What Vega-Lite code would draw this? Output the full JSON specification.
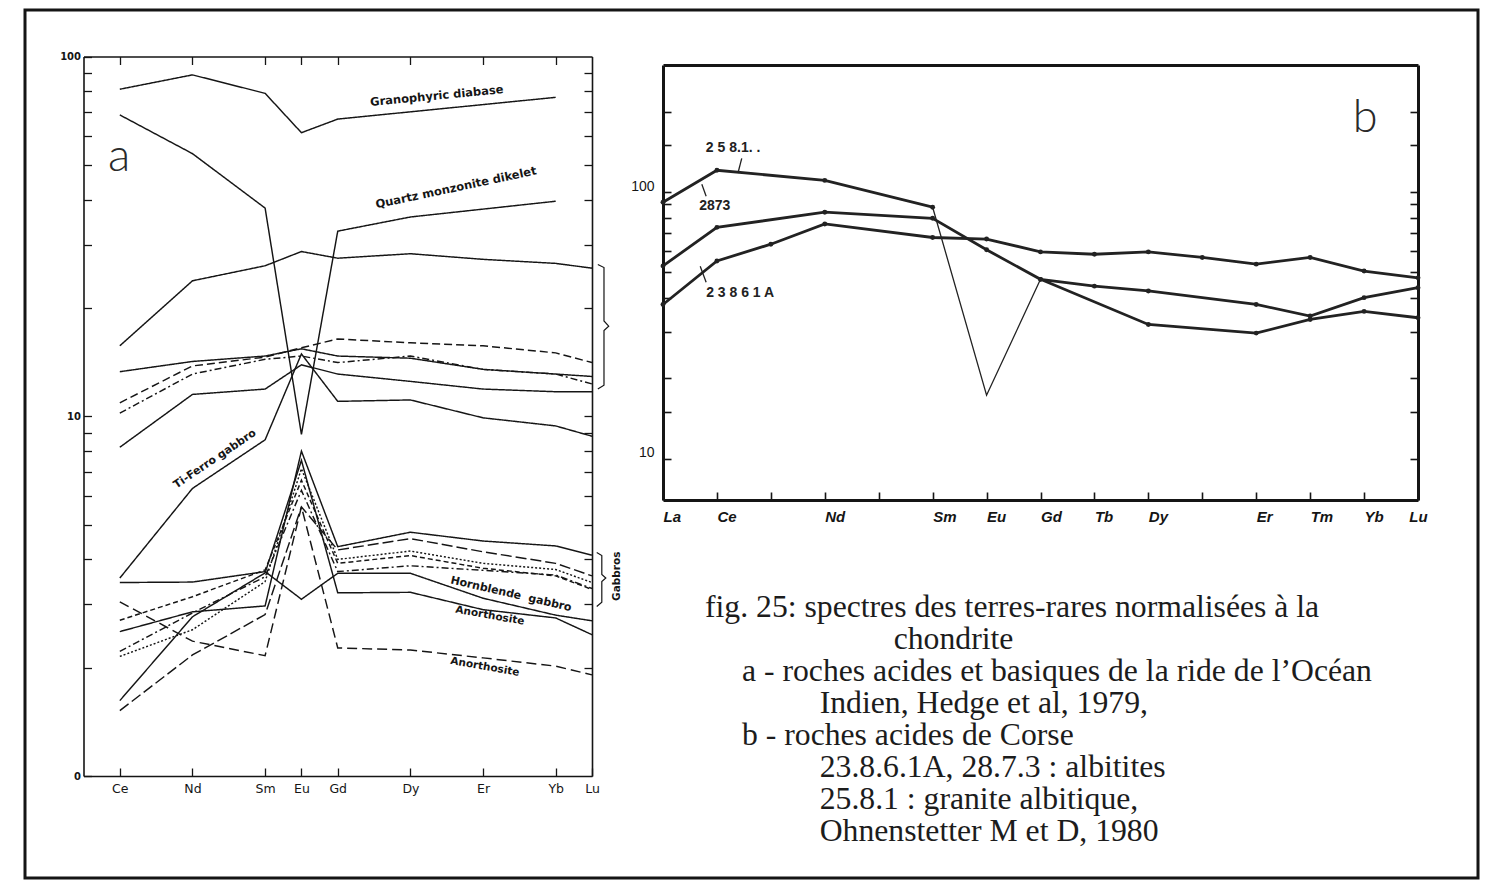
{
"$schema": "https://vega.github.io/schema/vega-lite/v6.json",
"width": 1453, "height": 868,
"autosize": {"type": "none"},
"padding": {"left": 25, "top": 10, "right": 16, "bottom": 3},
"background": "#ffffff",
"config": {
  "view": {"stroke": "#151515", "strokeWidth": 3},
  "axis": {"grid": false, "domainColor": "#151515", "tickColor": "#151515", "labelColor": "#151515", "labelFlush": false, "labelOverlap": false, "labelBound": false, "title": null},
  "text": {"color": "#151515"},
  "line": {"color": "#151515"},
  "rule": {"color": "#151515"}
},
"datasets": {
  "ree_a": [
    {"sample":"Granophyric diabase","element":"Ce","z":58,"value":81.1},
    {"sample":"Granophyric diabase","element":"Nd","z":60,"value":88.9},
    {"sample":"Granophyric diabase","element":"Sm","z":62,"value":79.0},
    {"sample":"Granophyric diabase","element":"Eu","z":63,"value":61.4},
    {"sample":"Granophyric diabase","element":"Gd","z":64,"value":67.0},
    {"sample":"Granophyric diabase","element":"Yb","z":70,"value":77.0},
    {"sample":"Quartz monzonite dikelet","element":"Ce","z":58,"value":68.8},
    {"sample":"Quartz monzonite dikelet","element":"Nd","z":60,"value":53.7},
    {"sample":"Quartz monzonite dikelet","element":"Sm","z":62,"value":37.9},
    {"sample":"Quartz monzonite dikelet","element":"Eu","z":63,"value":8.9},
    {"sample":"Quartz monzonite dikelet","element":"Gd","z":64,"value":32.7},
    {"sample":"Quartz monzonite dikelet","element":"Dy","z":66,"value":35.8},
    {"sample":"Quartz monzonite dikelet","element":"Yb","z":70,"value":39.6},
    {"sample":"Gabbro 1","element":"Ce","z":58,"value":15.7},
    {"sample":"Gabbro 1","element":"Nd","z":60,"value":23.8},
    {"sample":"Gabbro 1","element":"Sm","z":62,"value":26.2},
    {"sample":"Gabbro 1","element":"Eu","z":63,"value":28.7},
    {"sample":"Gabbro 1","element":"Gd","z":64,"value":27.5},
    {"sample":"Gabbro 1","element":"Dy","z":66,"value":28.3},
    {"sample":"Gabbro 1","element":"Er","z":68,"value":27.3},
    {"sample":"Gabbro 1","element":"Yb","z":70,"value":26.6},
    {"sample":"Gabbro 1","element":"Lu","z":71,"value":25.8},
    {"sample":"Gabbro 2","element":"Ce","z":58,"value":10.9},
    {"sample":"Gabbro 2","element":"Nd","z":60,"value":13.8},
    {"sample":"Gabbro 2","element":"Sm","z":62,"value":14.6},
    {"sample":"Gabbro 2","element":"Eu","z":63,"value":15.5},
    {"sample":"Gabbro 2","element":"Gd","z":64,"value":16.4},
    {"sample":"Gabbro 2","element":"Dy","z":66,"value":16.0},
    {"sample":"Gabbro 2","element":"Er","z":68,"value":15.7},
    {"sample":"Gabbro 2","element":"Yb","z":70,"value":15.0},
    {"sample":"Gabbro 2","element":"Lu","z":71,"value":14.1},
    {"sample":"Gabbro 3","element":"Ce","z":58,"value":10.2},
    {"sample":"Gabbro 3","element":"Nd","z":60,"value":13.1},
    {"sample":"Gabbro 3","element":"Sm","z":62,"value":14.4},
    {"sample":"Gabbro 3","element":"Eu","z":63,"value":14.7},
    {"sample":"Gabbro 3","element":"Gd","z":64,"value":14.1},
    {"sample":"Gabbro 3","element":"Dy","z":66,"value":14.7},
    {"sample":"Gabbro 3","element":"Er","z":68,"value":13.5},
    {"sample":"Gabbro 3","element":"Yb","z":70,"value":13.1},
    {"sample":"Gabbro 3","element":"Lu","z":71,"value":12.3},
    {"sample":"Gabbro 4","element":"Ce","z":58,"value":13.3},
    {"sample":"Gabbro 4","element":"Nd","z":60,"value":14.2},
    {"sample":"Gabbro 4","element":"Sm","z":62,"value":14.7},
    {"sample":"Gabbro 4","element":"Eu","z":63,"value":15.4},
    {"sample":"Gabbro 4","element":"Gd","z":64,"value":14.7},
    {"sample":"Gabbro 4","element":"Dy","z":66,"value":14.5},
    {"sample":"Gabbro 4","element":"Er","z":68,"value":13.5},
    {"sample":"Gabbro 4","element":"Yb","z":70,"value":13.1},
    {"sample":"Gabbro 4","element":"Lu","z":71,"value":12.9},
    {"sample":"Gabbro 5","element":"Ce","z":58,"value":8.2},
    {"sample":"Gabbro 5","element":"Nd","z":60,"value":11.5},
    {"sample":"Gabbro 5","element":"Sm","z":62,"value":11.9},
    {"sample":"Gabbro 5","element":"Eu","z":63,"value":13.9},
    {"sample":"Gabbro 5","element":"Gd","z":64,"value":13.1},
    {"sample":"Gabbro 5","element":"Dy","z":66,"value":12.5},
    {"sample":"Gabbro 5","element":"Er","z":68,"value":11.9},
    {"sample":"Gabbro 5","element":"Yb","z":70,"value":11.7},
    {"sample":"Gabbro 5","element":"Lu","z":71,"value":11.7},
    {"sample":"Ti-Ferro gabbro","element":"Ce","z":58,"value":3.55},
    {"sample":"Ti-Ferro gabbro","element":"Nd","z":60,"value":6.3},
    {"sample":"Ti-Ferro gabbro","element":"Sm","z":62,"value":8.6},
    {"sample":"Ti-Ferro gabbro","element":"Eu","z":63,"value":14.9},
    {"sample":"Ti-Ferro gabbro","element":"Gd","z":64,"value":11.0},
    {"sample":"Ti-Ferro gabbro","element":"Dy","z":66,"value":11.1},
    {"sample":"Ti-Ferro gabbro","element":"Er","z":68,"value":9.9},
    {"sample":"Ti-Ferro gabbro","element":"Yb","z":70,"value":9.4},
    {"sample":"Ti-Ferro gabbro","element":"Lu","z":71,"value":8.8},
    {"sample":"Gabbro 6","element":"Ce","z":58,"value":2.52},
    {"sample":"Gabbro 6","element":"Nd","z":60,"value":2.86},
    {"sample":"Gabbro 6","element":"Sm","z":62,"value":2.97},
    {"sample":"Gabbro 6","element":"Eu","z":63,"value":8.0},
    {"sample":"Gabbro 6","element":"Gd","z":64,"value":4.34},
    {"sample":"Gabbro 6","element":"Dy","z":66,"value":4.76},
    {"sample":"Gabbro 6","element":"Er","z":68,"value":4.5},
    {"sample":"Gabbro 6","element":"Yb","z":70,"value":4.36},
    {"sample":"Gabbro 6","element":"Lu","z":71,"value":4.11},
    {"sample":"Gabbro 7","element":"Ce","z":58,"value":1.52},
    {"sample":"Gabbro 7","element":"Nd","z":60,"value":2.17},
    {"sample":"Gabbro 7","element":"Sm","z":62,"value":2.81},
    {"sample":"Gabbro 7","element":"Eu","z":63,"value":5.6},
    {"sample":"Gabbro 7","element":"Gd","z":64,"value":4.25},
    {"sample":"Gabbro 7","element":"Dy","z":66,"value":4.57},
    {"sample":"Gabbro 7","element":"Er","z":68,"value":4.2},
    {"sample":"Gabbro 7","element":"Yb","z":70,"value":3.9},
    {"sample":"Gabbro 7","element":"Lu","z":71,"value":3.6},
    {"sample":"Gabbro 8","element":"Ce","z":58,"value":2.15},
    {"sample":"Gabbro 8","element":"Nd","z":60,"value":2.55},
    {"sample":"Gabbro 8","element":"Sm","z":62,"value":3.47},
    {"sample":"Gabbro 8","element":"Eu","z":63,"value":7.15},
    {"sample":"Gabbro 8","element":"Gd","z":64,"value":4.0},
    {"sample":"Gabbro 8","element":"Dy","z":66,"value":4.22},
    {"sample":"Gabbro 8","element":"Er","z":68,"value":3.9},
    {"sample":"Gabbro 8","element":"Yb","z":70,"value":3.75},
    {"sample":"Gabbro 8","element":"Lu","z":71,"value":3.45},
    {"sample":"Gabbro 9","element":"Ce","z":58,"value":2.71},
    {"sample":"Gabbro 9","element":"Nd","z":60,"value":3.15},
    {"sample":"Gabbro 9","element":"Sm","z":62,"value":3.74},
    {"sample":"Gabbro 9","element":"Eu","z":63,"value":6.64},
    {"sample":"Gabbro 9","element":"Gd","z":64,"value":3.9},
    {"sample":"Gabbro 9","element":"Dy","z":66,"value":4.1},
    {"sample":"Gabbro 9","element":"Er","z":68,"value":3.78},
    {"sample":"Gabbro 9","element":"Yb","z":70,"value":3.6},
    {"sample":"Gabbro 9","element":"Lu","z":71,"value":3.3},
    {"sample":"Gabbro 10","element":"Ce","z":58,"value":2.22},
    {"sample":"Gabbro 10","element":"Nd","z":60,"value":2.84},
    {"sample":"Gabbro 10","element":"Sm","z":62,"value":3.58},
    {"sample":"Gabbro 10","element":"Eu","z":63,"value":6.22},
    {"sample":"Gabbro 10","element":"Gd","z":64,"value":3.7},
    {"sample":"Gabbro 10","element":"Dy","z":66,"value":3.84},
    {"sample":"Gabbro 10","element":"Er","z":68,"value":3.73},
    {"sample":"Gabbro 10","element":"Yb","z":70,"value":3.62},
    {"sample":"Gabbro 10","element":"Lu","z":71,"value":3.32},
    {"sample":"Hornblende gabbro","element":"Ce","z":58,"value":3.45},
    {"sample":"Hornblende gabbro","element":"Nd","z":60,"value":3.46},
    {"sample":"Hornblende gabbro","element":"Sm","z":62,"value":3.7},
    {"sample":"Hornblende gabbro","element":"Eu","z":63,"value":3.1},
    {"sample":"Hornblende gabbro","element":"Gd","z":64,"value":3.66},
    {"sample":"Hornblende gabbro","element":"Dy","z":66,"value":3.66},
    {"sample":"Hornblende gabbro","element":"Er","z":68,"value":3.12},
    {"sample":"Hornblende gabbro","element":"Yb","z":70,"value":2.8},
    {"sample":"Hornblende gabbro","element":"Lu","z":71,"value":2.7},
    {"sample":"Anorthosite 1","element":"Ce","z":58,"value":1.62},
    {"sample":"Anorthosite 1","element":"Nd","z":60,"value":2.77},
    {"sample":"Anorthosite 1","element":"Sm","z":62,"value":3.67},
    {"sample":"Anorthosite 1","element":"Eu","z":63,"value":7.54},
    {"sample":"Anorthosite 1","element":"Gd","z":64,"value":3.23},
    {"sample":"Anorthosite 1","element":"Dy","z":66,"value":3.24},
    {"sample":"Anorthosite 1","element":"Er","z":68,"value":2.9},
    {"sample":"Anorthosite 1","element":"Yb","z":70,"value":2.75},
    {"sample":"Anorthosite 1","element":"Lu","z":71,"value":2.47},
    {"sample":"Anorthosite 2","element":"Ce","z":58,"value":3.05},
    {"sample":"Anorthosite 2","element":"Nd","z":60,"value":2.37},
    {"sample":"Anorthosite 2","element":"Sm","z":62,"value":2.16},
    {"sample":"Anorthosite 2","element":"Eu","z":63,"value":5.6},
    {"sample":"Anorthosite 2","element":"Gd","z":64,"value":2.27},
    {"sample":"Anorthosite 2","element":"Dy","z":66,"value":2.24},
    {"sample":"Anorthosite 2","element":"Er","z":68,"value":2.13},
    {"sample":"Anorthosite 2","element":"Yb","z":70,"value":2.02},
    {"sample":"Anorthosite 2","element":"Lu","z":71,"value":1.91}
  ],
  "ree_b": [
    {"sample":"25.8.1","element":"La","z":57,"value":91.7},
    {"sample":"25.8.1","element":"Ce","z":58,"value":120.8},
    {"sample":"25.8.1","element":"Nd","z":60,"value":110.7},
    {"sample":"25.8.1","element":"Sm","z":62,"value":87.8},
    {"sample":"25.8.1","element":"Eu","z":63,"value":17.3},
    {"sample":"25.8.1","element":"Gd","z":64,"value":47.1},
    {"sample":"25.8.1","element":"Dy","z":66,"value":31.9},
    {"sample":"25.8.1","element":"Er","z":68,"value":29.6},
    {"sample":"25.8.1","element":"Tm","z":69,"value":33.3},
    {"sample":"25.8.1","element":"Yb","z":70,"value":35.7},
    {"sample":"25.8.1","element":"Lu","z":71,"value":33.8},
    {"sample":"28.7.3","element":"La","z":57,"value":52.9},
    {"sample":"28.7.3","element":"Ce","z":58,"value":73.8},
    {"sample":"28.7.3","element":"Nd","z":60,"value":84.1},
    {"sample":"28.7.3","element":"Sm","z":62,"value":79.8},
    {"sample":"28.7.3","element":"Eu","z":63,"value":60.8},
    {"sample":"28.7.3","element":"Gd","z":64,"value":47.1},
    {"sample":"28.7.3","element":"Tb","z":65,"value":44.4},
    {"sample":"28.7.3","element":"Dy","z":66,"value":42.6},
    {"sample":"28.7.3","element":"Er","z":68,"value":37.9},
    {"sample":"28.7.3","element":"Tm","z":69,"value":34.3},
    {"sample":"28.7.3","element":"Yb","z":70,"value":40.2},
    {"sample":"28.7.3","element":"Lu","z":71,"value":43.8},
    {"sample":"23.8.6.1A","element":"La","z":57,"value":37.9},
    {"sample":"23.8.6.1A","element":"Ce","z":58,"value":55.2},
    {"sample":"23.8.6.1A","element":"Pr","z":59,"value":63.8},
    {"sample":"23.8.6.1A","element":"Nd","z":60,"value":76.0},
    {"sample":"23.8.6.1A","element":"Sm","z":62,"value":67.6},
    {"sample":"23.8.6.1A","element":"Eu","z":63,"value":66.7},
    {"sample":"23.8.6.1A","element":"Gd","z":64,"value":59.7},
    {"sample":"23.8.6.1A","element":"Tb","z":65,"value":58.5},
    {"sample":"23.8.6.1A","element":"Dy","z":66,"value":59.7},
    {"sample":"23.8.6.1A","element":"Ho","z":67,"value":56.9},
    {"sample":"23.8.6.1A","element":"Er","z":68,"value":53.7},
    {"sample":"23.8.6.1A","element":"Tm","z":69,"value":56.9},
    {"sample":"23.8.6.1A","element":"Yb","z":70,"value":50.6},
    {"sample":"23.8.6.1A","element":"Lu","z":71,"value":47.7}
  ],
  "notes_a": [
    {"text":"a","z":57.98,"value":52.7},
    {"text":"Granophyric diabase","z":66.73,"value":77.4},
    {"text":"Quartz monzonite dikelet","z":67.26,"value":43.0},
    {"text":"Ti-Ferro gabbro","z":60.62,"value":7.6},
    {"text":"Hornblende\u00a0\u00a0gabbro","z":68.77,"value":3.2},
    {"text":"Anorthosite","z":68.19,"value":2.79},
    {"text":"Anorthosite","z":68.05,"value":2.01},
    {"text":"Gabbros","z":71.69,"value":3.59}
  ],
  "brackets": [
    {"bracket":"upper","order":1,"z":71.16,"value":26.4},
    {"bracket":"upper","order":2,"z":71.33,"value":25.9},
    {"bracket":"upper","order":3,"z":71.33,"value":18.4},
    {"bracket":"upper","order":4,"z":71.46,"value":17.8},
    {"bracket":"upper","order":5,"z":71.33,"value":17.3},
    {"bracket":"upper","order":6,"z":71.33,"value":12.2},
    {"bracket":"upper","order":7,"z":71.16,"value":11.9},
    {"bracket":"gabbros","order":1,"z":71.13,"value":4.18},
    {"bracket":"gabbros","order":2,"z":71.27,"value":4.1},
    {"bracket":"gabbros","order":3,"z":71.27,"value":3.63},
    {"bracket":"gabbros","order":4,"z":71.38,"value":3.55},
    {"bracket":"gabbros","order":5,"z":71.27,"value":3.47},
    {"bracket":"gabbros","order":6,"z":71.27,"value":3.04},
    {"bracket":"gabbros","order":7,"z":71.13,"value":2.96}
  ],
  "notes_b": [
    {"text":"b","z":70.02,"value":190},
    {"text":"2 5 8.1. .","z":58.3,"value":146},
    {"text":"2873","z":57.96,"value":88.5},
    {"text":"2 3 8 6 1 A","z":58.43,"value":41.7}
  ],
  "arrows_b": [
    {"label":"25.8.1","z":58.46,"value":134,"z2":58.39,"value2":118},
    {"label":"28.7.3","z":57.8,"value":96.5,"z2":57.72,"value2":107},
    {"label":"23.8.6.1A","z":57.8,"value":45.9,"z2":57.69,"value2":52.7}
  ],
  "caption": [
    {"line":1,"indent":0,"text":"fig. 25: spectres des terres-rares normalisées à la"},
    {"line":2,"indent":5.1,"text":"chondrite"},
    {"line":3,"indent":1,"text":"a - roches acides et basiques de la ride de l’Océan"},
    {"line":4,"indent":3.1,"text":"Indien, Hedge et al, 1979,"},
    {"line":5,"indent":1,"text":"b - roches acides de Corse"},
    {"line":6,"indent":3.1,"text":"23.8.6.1A, 28.7.3 : albitites"},
    {"line":7,"indent":3.1,"text":"25.8.1 : granite albitique,"},
    {"line":8,"indent":3.1,"text":"Ohnenstetter M et D, 1980"}
  ]
},
"layer": [
  {
    "layer": [
      {
        "data": {"name": "ree_a"},
        "mark": {"type": "line", "strokeWidth": 1.45, "color": "#151515"},
        "encoding": {
          "x": {"field": "z", "type": "quantitative", "scale": {"type": "linear", "domain": [57, 71], "range": [58.5, 567], "nice": false, "zero": false},
                "axis": {"orient": "bottom", "offset": -102, "values": [58, 60, 62, 63, 64, 66, 68, 70, 71], "labelExpr": "['La','Ce','Pr','Nd','Pm','Sm','Eu','Gd','Tb','Dy','Ho','Er','Tm','Yb','Lu'][datum.value - 57]", "tickSize": -8, "tickWidth": 1.3, "domainWidth": 1.6, "labelPadding": 14, "labelFont": "DejaVu Sans", "labelFontSize": 12.5}},
          "y": {"field": "value", "type": "quantitative", "scale": {"type": "log", "domain": [1, 100], "range": [766, 46.5], "nice": false},
                "axis": {"orient": "left", "offset": -58.5, "values": [1, 2, 3, 4, 5, 6, 7, 8, 9, 10, 20, 30, 40, 50, 60, 70, 80, 90, 100], "labelExpr": "datum.value == 1 ? '0' : ((datum.value == 10 || datum.value == 100) ? format(datum.value, 'd') : '')", "tickSize": -8, "tickWidth": 1.3, "domainWidth": 1.6, "labelPadding": 11, "labelFont": "DejaVu Sans", "labelFontSize": 10, "labelFontWeight": "bold"}},
          "strokeDash": {"field": "sample", "type": "nominal", "legend": null,
            "scale": {"domain": ["Granophyric diabase", "Quartz monzonite dikelet", "Gabbro 1", "Gabbro 2", "Gabbro 3", "Gabbro 4", "Gabbro 5", "Ti-Ferro gabbro", "Gabbro 6", "Gabbro 7", "Gabbro 8", "Gabbro 9", "Gabbro 10", "Hornblende gabbro", "Anorthosite 1", "Anorthosite 2"],
                      "range": [[1, 0], [1, 0], [1, 0], [8, 4], [7, 3, 2, 3], [1, 0], [1, 0], [1, 0], [1, 0], [11, 4], [2, 2], [5, 3], [7, 3, 2, 3], [1, 0], [1, 0], [10, 5]]}}
        }
      },
      {
        "data": {"name": "notes_a"},
        "transform": [{"filter": "datum.text === 'a'"}],
        "mark": {"type": "text", "font": "Lato", "fontWeight": 300, "fontSize": 46, "color": "#2a2a2a"},
        "encoding": {
          "x": {"field": "z", "type": "quantitative", "scale": {"type": "linear", "domain": [57, 71], "range": [58.5, 567], "nice": false, "zero": false},
                "axis": {"orient": "top", "offset": -46.5, "values": [58, 60, 62, 63, 64, 66, 68, 70], "labels": false, "tickSize": -8, "tickWidth": 1.3, "domainWidth": 1.6}},
          "y": {"field": "value", "type": "quantitative", "scale": {"type": "log", "domain": [1, 100], "range": [766, 46.5], "nice": false},
                "axis": {"orient": "right", "offset": -886, "values": [2, 3, 4, 5, 6, 7, 8, 9, 10, 20, 30, 40, 50, 60, 70, 80, 90], "labels": false, "tickSize": -8, "tickWidth": 1.3, "domainWidth": 1.6}},
          "text": {"field": "text"}
        }
      },
      {
        "data": {"name": "notes_a"},
        "transform": [{"filter": "datum.text === 'Granophyric diabase'"}],
        "mark": {"type": "text", "angle": 354.5, "font": "DejaVu Sans", "fontWeight": "bold", "fontSize": 11.5},
        "encoding": {
          "x": {"field": "z", "type": "quantitative", "scale": {"type": "linear", "domain": [57, 71], "range": [58.5, 567], "nice": false, "zero": false}, "axis": null},
          "y": {"field": "value", "type": "quantitative", "scale": {"type": "log", "domain": [1, 100], "range": [766, 46.5], "nice": false}, "axis": null},
          "text": {"field": "text"}
        }
      },
      {
        "data": {"name": "notes_a"},
        "transform": [{"filter": "datum.text === 'Quartz monzonite dikelet'"}],
        "mark": {"type": "text", "angle": 348, "font": "DejaVu Sans", "fontWeight": "bold", "fontSize": 11.5},
        "encoding": {
          "x": {"field": "z", "type": "quantitative", "scale": {"type": "linear", "domain": [57, 71], "range": [58.5, 567], "nice": false, "zero": false}, "axis": null},
          "y": {"field": "value", "type": "quantitative", "scale": {"type": "log", "domain": [1, 100], "range": [766, 46.5], "nice": false}, "axis": null},
          "text": {"field": "text"}
        }
      },
      {
        "data": {"name": "notes_a"},
        "transform": [{"filter": "datum.text === 'Ti-Ferro gabbro'"}],
        "mark": {"type": "text", "angle": 326, "font": "DejaVu Sans", "fontWeight": "bold", "fontSize": 11},
        "encoding": {
          "x": {"field": "z", "type": "quantitative", "scale": {"type": "linear", "domain": [57, 71], "range": [58.5, 567], "nice": false, "zero": false}, "axis": null},
          "y": {"field": "value", "type": "quantitative", "scale": {"type": "log", "domain": [1, 100], "range": [766, 46.5], "nice": false}, "axis": null},
          "text": {"field": "text"}
        }
      },
      {
        "data": {"name": "notes_a"},
        "transform": [{"filter": "indexof(datum.text, 'Hornblende') === 0"}],
        "mark": {"type": "text", "angle": 13, "font": "DejaVu Sans", "fontWeight": "bold", "fontSize": 11},
        "encoding": {
          "x": {"field": "z", "type": "quantitative", "scale": {"type": "linear", "domain": [57, 71], "range": [58.5, 567], "nice": false, "zero": false}, "axis": null},
          "y": {"field": "value", "type": "quantitative", "scale": {"type": "log", "domain": [1, 100], "range": [766, 46.5], "nice": false}, "axis": null},
          "text": {"field": "text"}
        }
      },
      {
        "data": {"name": "notes_a"},
        "transform": [{"filter": "datum.text === 'Anorthosite'"}],
        "mark": {"type": "text", "angle": 10, "font": "DejaVu Sans", "fontWeight": "bold", "fontSize": 10.5},
        "encoding": {
          "x": {"field": "z", "type": "quantitative", "scale": {"type": "linear", "domain": [57, 71], "range": [58.5, 567], "nice": false, "zero": false}, "axis": null},
          "y": {"field": "value", "type": "quantitative", "scale": {"type": "log", "domain": [1, 100], "range": [766, 46.5], "nice": false}, "axis": null},
          "text": {"field": "text"}
        }
      },
      {
        "data": {"name": "notes_a"},
        "transform": [{"filter": "datum.text === 'Gabbros'"}],
        "mark": {"type": "text", "angle": 270, "font": "DejaVu Sans", "fontWeight": "bold", "fontSize": 10.5},
        "encoding": {
          "x": {"field": "z", "type": "quantitative", "scale": {"type": "linear", "domain": [57, 71], "range": [58.5, 567], "nice": false, "zero": false}, "axis": null},
          "y": {"field": "value", "type": "quantitative", "scale": {"type": "log", "domain": [1, 100], "range": [766, 46.5], "nice": false}, "axis": null},
          "text": {"field": "text"}
        }
      },
      {
        "data": {"name": "brackets"},
        "mark": {"type": "line", "strokeWidth": 1.2, "color": "#151515"},
        "encoding": {
          "x": {"field": "z", "type": "quantitative", "scale": {"type": "linear", "domain": [57, 71], "range": [58.5, 567], "nice": false, "zero": false}, "axis": null},
          "y": {"field": "value", "type": "quantitative", "scale": {"type": "log", "domain": [1, 100], "range": [766, 46.5], "nice": false}, "axis": null},
          "detail": {"field": "bracket"},
          "order": {"field": "order", "type": "quantitative"}
        }
      }
    ],
    "resolve": {"axis": {"x": "independent", "y": "independent"}}
  },
  {
    "layer": [
      {
        "data": {"name": "ree_b"},
        "transform": [{"filter": "datum.sample !== '25.8.1'"}],
        "mark": {"type": "line", "strokeWidth": 2.8, "color": "#222222"},
        "encoding": {
          "x": {"field": "z", "type": "quantitative", "scale": {"type": "linear", "domain": [57, 71], "range": [638, 1393], "nice": false, "zero": false},
                "axis": {"orient": "bottom", "offset": -378, "values": [57, 58, 59, 60, 61, 62, 63, 64, 65, 66, 67, 68, 69, 70, 71], "labelExpr": "indexof([59, 61, 67], datum.value) >= 0 ? '' : ['La','Ce','Pr','Nd','Pm','Sm','Eu','Gd','Tb','Dy','Ho','Er','Tm','Yb','Lu'][datum.value - 57]", "labelAlign": {"condition": {"test": "datum.value == 71", "value": "center"}, "value": "left"}, "tickSize": -8, "tickWidth": 1.6, "domainWidth": 3, "labelPadding": 17, "labelFont": "Liberation Sans", "labelFontSize": 15, "labelFontWeight": "bold", "labelFontStyle": "italic"}},
          "y": {"field": "value", "type": "quantitative", "scale": {"type": "log", "domain": [7, 300], "range": [490, 55], "nice": false},
                "axis": {"orient": "left", "offset": -638, "values": [10, 15, 20, 30, 40, 50, 60, 70, 80, 90, 100, 150, 200], "labelExpr": "(datum.value == 10 || datum.value == 100) ? format(datum.value, 'd') : ''", "tickSize": -8, "tickWidth": 1.6, "domainWidth": 3, "labelPadding": 17, "labelFont": "Liberation Sans", "labelFontSize": 14, "labelOffset": -6}},
          "detail": {"field": "sample"}
        }
      },
      {
        "data": {"name": "ree_b"},
        "transform": [{"filter": "datum.sample === '25.8.1' && datum.z <= 62"}],
        "mark": {"type": "line", "strokeWidth": 2.8, "color": "#222222"},
        "encoding": {
          "x": {"field": "z", "type": "quantitative", "scale": {"type": "linear", "domain": [57, 71], "range": [638, 1393], "nice": false, "zero": false}, "axis": null},
          "y": {"field": "value", "type": "quantitative", "scale": {"type": "log", "domain": [7, 300], "range": [490, 55], "nice": false}, "axis": null}
        }
      },
      {
        "data": {"name": "ree_b"},
        "transform": [{"filter": "datum.sample === '25.8.1' && datum.z >= 64"}],
        "mark": {"type": "line", "strokeWidth": 2.8, "color": "#222222"},
        "encoding": {
          "x": {"field": "z", "type": "quantitative", "scale": {"type": "linear", "domain": [57, 71], "range": [638, 1393], "nice": false, "zero": false}, "axis": null},
          "y": {"field": "value", "type": "quantitative", "scale": {"type": "log", "domain": [7, 300], "range": [490, 55], "nice": false}, "axis": null}
        }
      },
      {
        "data": {"name": "ree_b"},
        "transform": [{"filter": "datum.sample === '25.8.1' && datum.z >= 62 && datum.z <= 64"}],
        "mark": {"type": "line", "strokeWidth": 1.3, "color": "#222222"},
        "encoding": {
          "x": {"field": "z", "type": "quantitative", "scale": {"type": "linear", "domain": [57, 71], "range": [638, 1393], "nice": false, "zero": false}, "axis": null},
          "y": {"field": "value", "type": "quantitative", "scale": {"type": "log", "domain": [7, 300], "range": [490, 55], "nice": false}, "axis": null}
        }
      },
      {
        "data": {"name": "ree_b"},
        "transform": [{"filter": "datum.element !== 'Eu' || datum.sample !== '25.8.1'"}],
        "mark": {"type": "point", "filled": true, "size": 24, "color": "#222222", "opacity": 1},
        "encoding": {
          "x": {"field": "z", "type": "quantitative", "scale": {"type": "linear", "domain": [57, 71], "range": [638, 1393], "nice": false, "zero": false}, "axis": null},
          "y": {"field": "value", "type": "quantitative", "scale": {"type": "log", "domain": [7, 300], "range": [490, 55], "nice": false}, "axis": null}
        }
      },
      {
        "data": {"name": "arrows_b"},
        "mark": {"type": "rule", "strokeWidth": 1.3, "color": "#222222"},
        "encoding": {
          "x": {"field": "z", "type": "quantitative", "scale": {"type": "linear", "domain": [57, 71], "range": [638, 1393], "nice": false, "zero": false}, "axis": null},
          "y": {"field": "value", "type": "quantitative", "scale": {"type": "log", "domain": [7, 300], "range": [490, 55], "nice": false}, "axis": null},
          "x2": {"field": "z2"},
          "y2": {"field": "value2"}
        }
      },
      {
        "data": {"name": "notes_b"},
        "transform": [{"filter": "datum.text !== 'b'"}],
        "mark": {"type": "text", "font": "Liberation Sans", "fontWeight": "bold", "fontSize": 14, "color": "#222222"},
        "encoding": {
          "x": {"field": "z", "type": "quantitative", "scale": {"type": "linear", "domain": [57, 71], "range": [638, 1393], "nice": false, "zero": false}, "axis": null},
          "y": {"field": "value", "type": "quantitative", "scale": {"type": "log", "domain": [7, 300], "range": [490, 55], "nice": false}, "axis": null},
          "text": {"field": "text"}
        }
      },
      {
        "data": {"name": "notes_b"},
        "transform": [{"filter": "datum.text === 'b'"}],
        "mark": {"type": "text", "font": "Lato", "fontWeight": 300, "fontSize": 45, "color": "#2a2a2a"},
        "encoding": {
          "x": {"field": "z", "type": "quantitative", "scale": {"type": "linear", "domain": [57, 71], "range": [638, 1393], "nice": false, "zero": false},
                "axis": {"orient": "top", "offset": -55, "ticks": false, "labels": false, "domainWidth": 3}},
          "y": {"field": "value", "type": "quantitative", "scale": {"type": "log", "domain": [7, 300], "range": [490, 55], "nice": false},
                "axis": {"orient": "right", "offset": -60, "values": [10, 15, 20, 30, 40, 50, 60, 70, 80, 90, 100, 150, 200], "labels": false, "tickSize": -8, "tickWidth": 1.6, "domainWidth": 3}},
          "text": {"field": "text"}
        }
      }
    ],
    "resolve": {"axis": {"x": "independent", "y": "independent"}}
  },
  {
    "data": {"name": "caption"},
    "mark": {"type": "text", "align": "left", "baseline": "alphabetic", "font": "Liberation Serif", "fontSize": 31.7, "color": "#1c1c1c"},
    "encoding": {
      "x": {"field": "indent", "type": "quantitative", "scale": {"domain": [0, 1], "range": [680, 717], "nice": false, "zero": false}, "axis": null},
      "y": {"field": "line", "type": "quantitative", "scale": {"domain": [1, 8], "range": [607, 831], "nice": false, "zero": false}, "axis": null},
      "text": {"field": "text"}
    }
  }
],
"resolve": {"scale": {"x": "independent", "y": "independent"}, "axis": {"x": "independent", "y": "independent"}}
}
